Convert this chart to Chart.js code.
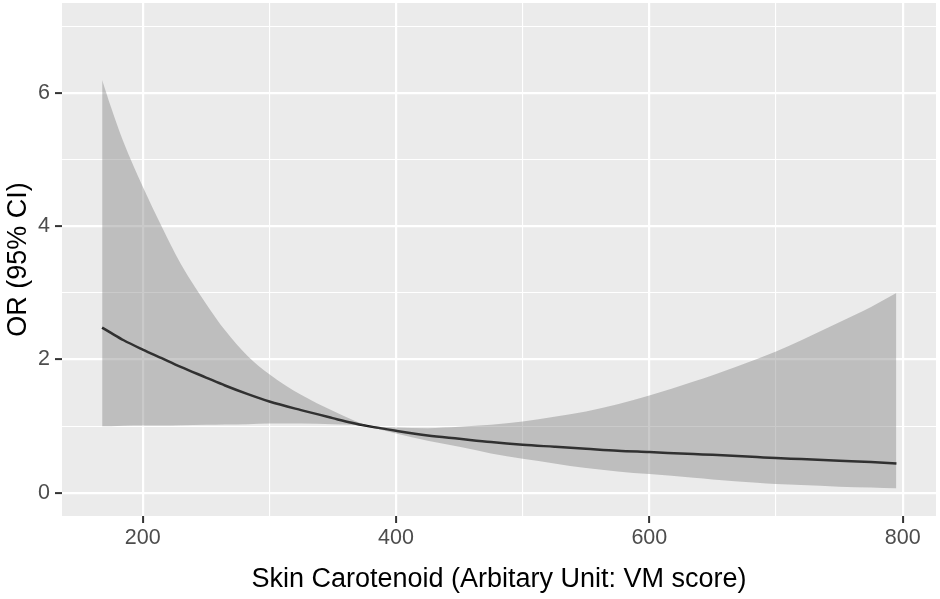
<!DOCTYPE html>
<html>
<head>
<meta charset="utf-8">
<script src="https://cdn.jsdelivr.net/npm/chart.js@4"></script>
<style>
  html, body { margin: 0; padding: 0; background: #fff; }
  #wrap { width: 940px; height: 599px; position: relative; }
</style>
</head>
<body>
<div id="wrap"><canvas id="orChart"></canvas></div>
<script>
// skin carotenoid score (x) and odds ratio with 95% CI
const vmScore = [168, 175, 185, 200, 215, 230, 250, 265, 283, 300, 325, 350, 365, 378, 400,
  425, 450, 475, 500, 525, 550, 575, 600, 635, 650, 685, 700, 720, 750, 775, 795];
const orEstimate = [2.48, 2.40, 2.29, 2.15, 2.02, 1.89, 1.73, 1.61, 1.48, 1.37, 1.24, 1.12, 1.05, 1.00, 0.93,
  0.86, 0.81, 0.76, 0.72, 0.69, 0.66, 0.63, 0.61, 0.58, 0.57, 0.535, 0.52, 0.505, 0.48, 0.46, 0.44];
const ciUpper = [6.20, 5.79, 5.26, 4.60, 4.00, 3.44, 2.84, 2.44, 2.05, 1.78, 1.47, 1.23, 1.10, 1.01, 0.98,
  0.97, 0.99, 1.02, 1.07, 1.14, 1.22, 1.33, 1.46, 1.67, 1.765, 2.01, 2.12, 2.29, 2.56, 2.79, 3.00];
const ciLower = [1.00, 1.00, 1.005, 1.01, 1.01, 1.015, 1.02, 1.025, 1.03, 1.04, 1.04, 1.03, 1.02, 0.99, 0.89,
  0.78, 0.69, 0.59, 0.51, 0.44, 0.37, 0.32, 0.28, 0.225, 0.20, 0.15, 0.13, 0.115, 0.09, 0.078, 0.066];

// grid positions; majors get a label and a tick mark
const xGrid = [200, 300, 400, 500, 600, 700, 800];
const xMajor = [200, 400, 600, 800];
const yGrid = [0, 1, 2, 3, 4, 5, 6, 7];
const yMajor = [0, 2, 4, 6];

const xTitle = "Skin Carotenoid (Arbitary Unit: VM score)";
const yTitle = "OR (95% CI)";

function toPoints(ys) {
  return vmScore.map((x, i) => ({ x: x, y: ys[i] }));
}

// grey panel like ggplot's theme_grey
const panelBg = {
  id: "panelBg",
  beforeDraw(chart) {
    const { ctx, chartArea: a } = chart;
    ctx.save();
    ctx.fillStyle = "#ffffff";
    ctx.fillRect(0, 0, chart.width, chart.height);
    ctx.fillStyle = "#EBEBEB";
    ctx.fillRect(a.left, a.top, a.right - a.left, a.bottom - a.top);
    ctx.restore();
  }
};

function isMajor(list, v) {
  return list.indexOf(Math.round(v * 1000) / 1000) !== -1;
}

const tickFont = { family: "'Liberation Sans', Arial, sans-serif", size: 21.5 };
const titleFont = { family: "'Liberation Sans', Arial, sans-serif", size: 27 };

const ctx = document.getElementById("orChart").getContext("2d");
new Chart(ctx, {
  type: "line",
  data: {
    datasets: [
      {
        label: "upper",
        data: toPoints(ciUpper),
        borderWidth: 0,
        borderColor: "rgba(0,0,0,0)",
        backgroundColor: "rgba(122,122,122,0.4)",
        pointRadius: 0,
        cubicInterpolationMode: "monotone",
        fill: "+1"
      },
      {
        label: "lower",
        data: toPoints(ciLower),
        borderWidth: 0,
        borderColor: "rgba(0,0,0,0)",
        pointRadius: 0,
        cubicInterpolationMode: "monotone",
        fill: false
      },
      {
        label: "OR",
        data: toPoints(orEstimate),
        borderColor: "#000000",
        borderWidth: 2.5,
        pointRadius: 0,
        cubicInterpolationMode: "monotone",
        fill: false
      }
    ]
  },
  options: {
    responsive: true,
    maintainAspectRatio: false,
    animation: false,
    layout: { padding: { top: 3, right: 4, left: 0, bottom: 0 } },
    plugins: {
      legend: { display: false },
      tooltip: { enabled: false }
    },
    scales: {
      x: {
        type: "linear",
        min: 136.3,
        max: 826.3,
        afterBuildTicks(scale) { scale.ticks = xGrid.map(v => ({ value: v })); },
        afterFit(scale) {
          scale.height = 83;
          scale.paddingLeft = 0;
          scale.paddingRight = 0;
        },
        border: { display: false },
        grid: {
          color: "#ffffff",
          lineWidth: c => isMajor(xMajor, c.tick.value) ? 2.2 : 1.1,
          drawTicks: true,
          tickLength: 7,
          tickWidth: 2,
          tickColor: c => isMajor(xMajor, c.tick.value) ? "#333333" : "rgba(0,0,0,0)"
        },
        ticks: {
          autoSkip: false,
          maxRotation: 0,
          padding: 2,
          color: "#4D4D4D",
          font: tickFont,
          callback: v => isMajor(xMajor, v) ? String(v) : ""
        },
        title: {
          display: true,
          text: xTitle,
          color: "#000000",
          font: titleFont,
          padding: { top: 0, bottom: 3 }
        }
      },
      y: {
        type: "linear",
        min: -0.35,
        max: 7.356,
        afterBuildTicks(scale) { scale.ticks = yGrid.map(v => ({ value: v })); },
        afterFit(scale) {
          scale.width = 62;
          scale.paddingTop = 0;
          scale.paddingBottom = 0;
        },
        border: { display: false },
        grid: {
          color: "#ffffff",
          lineWidth: c => isMajor(yMajor, c.tick.value) ? 2.2 : 1.1,
          drawTicks: true,
          tickLength: 7,
          tickWidth: 2,
          tickColor: c => isMajor(yMajor, c.tick.value) ? "#333333" : "rgba(0,0,0,0)"
        },
        ticks: {
          autoSkip: false,
          padding: 5,
          color: "#4D4D4D",
          font: tickFont,
          callback: v => isMajor(yMajor, v) ? String(v) : ""
        },
        title: {
          display: true,
          text: yTitle,
          color: "#000000",
          font: titleFont,
          padding: { top: 2, bottom: 0 }
        }
      }
    }
  },
  plugins: [panelBg]
});
</script>
</body>
</html>
